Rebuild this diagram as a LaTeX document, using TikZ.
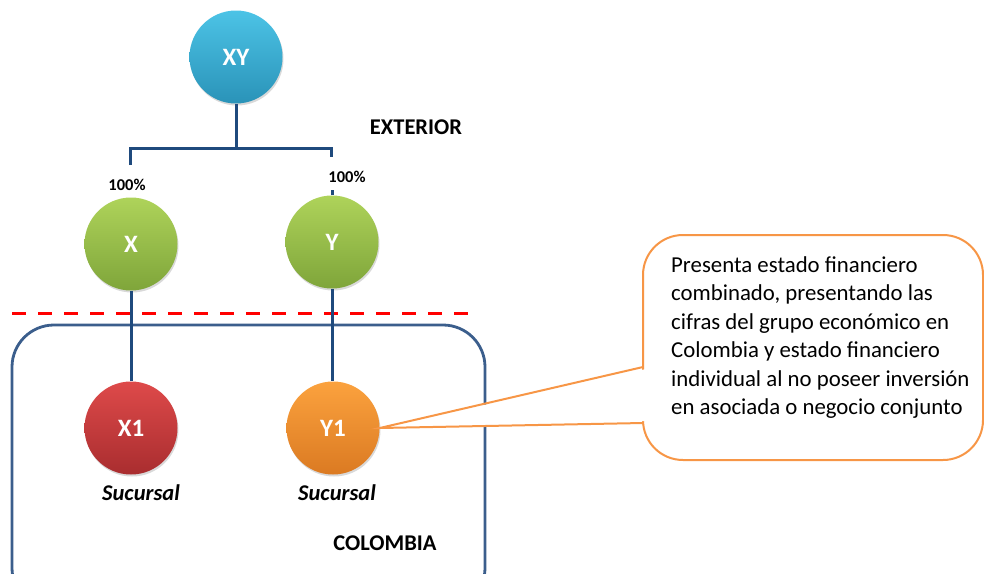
\documentclass[tikz,border=0pt]{standalone}
\usepackage{fontspec}
\setmainfont{Carlito}
\usetikzlibrary{shadows}
\definecolor{linkblue}{HTML}{1F4A7D}
\definecolor{boxblue}{HTML}{3B5E8C}
\definecolor{calloutor}{HTML}{F79646}
\definecolor{xyTop}{HTML}{4CC3E6}
\definecolor{xyBot}{HTML}{2A93B8}
\definecolor{grTop}{HTML}{AED35A}
\definecolor{grBot}{HTML}{7FA53A}
\definecolor{rdTop}{HTML}{DE4A4A}
\definecolor{rdBot}{HTML}{A92D2F}
\definecolor{orTop}{HTML}{FBA23E}
\definecolor{orBot}{HTML}{DB7A22}
\tikzset{
  ent/.style={circle, minimum size=93pt, inner sep=0pt, text=white,
    font=\fontsize{25}{29}\selectfont\bfseries,
    drop shadow={opacity=0.3, shadow xshift=1pt, shadow yshift=-2pt}},
  entxy/.style={ent, top color=xyTop, bottom color=xyBot},
  entgr/.style={ent, top color=grTop, bottom color=grBot},
  entrd/.style={ent, top color=rdTop, bottom color=rdBot},
  entor/.style={ent, top color=orTop, bottom color=orBot},
  conn/.style={draw=linkblue, line width=3pt},
  boxline/.style={draw=boxblue, line width=2.8pt},
  dashline/.style={draw=red, line width=3pt, dash pattern=on 14pt off 12pt},
  callout/.style={draw=calloutor, line width=2pt},
  pct/.style={font=\fontsize{16.5}{19}\selectfont\bfseries, inner sep=1pt},
  lbl/.style={font=\fontsize{22.5}{26}\selectfont\bfseries, inner sep=1pt},
  suc/.style={font=\fontsize{22.5}{26}\selectfont\bfseries\itshape, inner sep=1pt},
  ctext/.style={font=\fontsize{22.8}{28.5}\selectfont, align=left, inner sep=0pt}
}
\begin{document}
\begin{tikzpicture}[x=1pt,y=-1pt]
\useasboundingbox (0,0) rectangle (984,573);
\clip (0,0) rectangle (984,573);
% region box and border
\draw[boxline, rounded corners=42pt] (12,325) rectangle (485,610);
\coordinate (dL) at (12,313);
\coordinate (dR) at (473,313);
\draw[dashline] (dL) -- (dR);
% entities
\node[entxy] (XY) at (236,57) {XY};
\node[entgr] (X) at (131,244) {X};
\node[entgr] (Y) at (332,242) {Y};
\node[entrd] (X1) at (131,428) {X1};
\node[entor] (Y1) at (333,428) {Y1};
% connectors
\coordinate (J) at (236,148);
\coordinate (Lx) at (130,165);
\coordinate (Ry) at (331,157);
\draw[conn] (XY.south) -- (J);
\draw[conn] (Lx) |- (J) -| (Ry);
\draw[conn] (Y.north) -- ++(0,-5);
\draw[conn] (X.south) -- (X1.north);
\draw[conn] (Y.south) -- (Y.south |- X1.north);
% labels
\node[pct] (p1) at (127,185) {100\%};
\node[pct] (p2) at (347,177) {100\%};
\node[lbl] (ext) at (416,127) {EXTERIOR};
\node[suc] (s1) at (141,493) {Sucursal};
\node[suc] (s2) at (337,493) {Sucursal};
\node[lbl] (col) at (385,543) {COLOMBIA};
% callout
\draw[callout, fill=white, rounded corners=40pt] (643,235) rectangle (983,460);
\coordinate (cA) at (643,367);
\coordinate (cB) at (643,423);
\fill[white] (646,369) -- (Y1.east) -- (646,421) -- cycle;
\draw[callout, line join=miter] (cA) -- (Y1.east) -- (cB);
\node[ctext, anchor=north west] (txt) at (671,256) {Presenta estado financiero\\
combinado, presentando las\\
cifras del grupo económico en\\
Colombia y estado financiero\\
individual al no poseer inversión\\
en asociada o negocio conjunto};
\end{tikzpicture}
\end{document}
